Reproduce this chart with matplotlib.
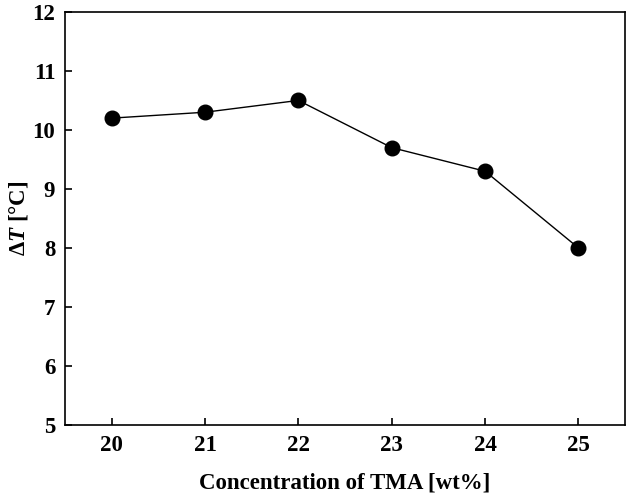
import matplotlib
matplotlib.use('Agg')
import matplotlib.pyplot as plt

conc = [20, 21, 22, 23, 24, 25]
dT = [10.2, 10.3, 10.5, 9.7, 9.3, 8.0]

plt.rcParams['font.family'] = 'Liberation Serif'
plt.rcParams['font.weight'] = 'bold'
plt.rcParams['mathtext.fontset'] = 'custom'
plt.rcParams['mathtext.rm'] = 'Liberation Serif:bold'
plt.rcParams['mathtext.it'] = 'Liberation Serif:italic:bold'
plt.rcParams['mathtext.bf'] = 'Liberation Serif:bold'

fig = plt.figure(figsize=(6.34, 4.97), dpi=100)
ax = fig.add_axes([0.1025, 0.145, 0.8835, 0.831])
ax.plot(conc, dT, '-o', color='black', lw=1, markersize=10.5)
ax.set_xlim(19.5, 25.5)
ax.set_ylim(5, 12)
ax.set_xticks(conc)
ax.set_yticks(range(5, 13))
ax.tick_params(direction='in', length=5, width=1.2, labelsize=16.5, pad=7, top=False, right=False)
for s in ax.spines.values():
    s.set_linewidth(1.2)
ax.set_xlabel('Concentration of TMA [wt%]', fontsize=16.5, fontweight='bold', labelpad=12)
ax.set_ylabel(r'$\mathit{ΔT}$ [°C]', fontsize=16.5, fontweight='bold', labelpad=2)
fig.savefig('out.png', dpi=100)
